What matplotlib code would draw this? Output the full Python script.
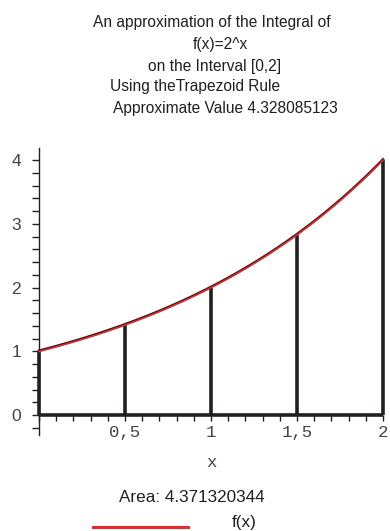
import numpy as np
import matplotlib
matplotlib.use('Agg')
import matplotlib.pyplot as plt
from matplotlib.ticker import MultipleLocator, FixedLocator

# trapezoid nodes for f(x)=2^x on [0,2], n=4
x_nodes = [0, 0.5, 1, 1.5, 2]
y_nodes = [1, 1.414, 2, 2.828, 4]

x_ticks = [0.5, 1, 1.5, 2]
x_tick_labels = ['0,5', '1', '1,5', '2']
y_ticks = [0, 1, 2, 3, 4]

title_lines = ['An approximation of the Integral of',
               'f(x)=2^x',
               'on the Interval [0,2]',
               'Using theTrapezoid Rule',
               'Approximate Value 4.328085123']
area_text = 'Area: 4.371320344'
legend_label = 'f(x)'

W, H = 390, 531
fig = plt.figure(figsize=(W / 100, H / 100), dpi=100)
ax = fig.add_axes([39 / W, 1 - 435 / H, (383 - 39) / W, (435 - 148) / H])

black = '#231f20'
red = '#e8282a'

# trapezoid sides and base
ax.vlines(x_nodes, 0, y_nodes, color=black, lw=2.6, clip_on=False, zorder=3)
ax.plot([x_nodes[0], x_nodes[-1]], [0, 0], color=black, lw=2.6, clip_on=False, zorder=3,
        solid_capstyle='butt')
# the function, with the black top underneath
xs = np.linspace(0, 2, 200)
ax.plot(xs, 2 ** xs + 0.012, color=black, lw=1.8, clip_on=False, zorder=4)
ax.plot(xs, 2 ** xs, color=red, lw=1.2, clip_on=False, zorder=5)

ax.set_xlim(0, 2)
ax.set_ylim(-0.31, 4.19)

for s in ['top', 'right']:
    ax.spines[s].set_visible(False)
ax.spines['bottom'].set_position(('data', 0))
ax.spines['bottom'].set_visible(False)
ax.spines['left'].set_color(black)
ax.spines['left'].set_linewidth(1.0)

ax.xaxis.set_major_locator(FixedLocator(x_ticks))
ax.set_xticklabels(x_tick_labels, family='Liberation Mono', fontsize=12.5, color='#444444')
ax.xaxis.set_minor_locator(MultipleLocator(0.1))
ax.tick_params(axis='x', which='both', direction='out', length=4, width=1, color=black, pad=3)

ax.yaxis.set_major_locator(FixedLocator(y_ticks))
ax.set_yticklabels([str(v) for v in y_ticks], family='Liberation Sans', fontsize=12.5, color='#444444')
ax.yaxis.set_minor_locator(MultipleLocator(0.2))
ax.tick_params(axis='y', which='both', direction='out', length=5, width=1, color=black, pad=8)

ax.set_xlabel('x', family='Liberation Mono', fontsize=12.5, color='#444444', labelpad=11)

# title lines
title_centers = [(212, 22), (220, 45), (215, 66), (195, 87), (225, 108)]
for line, (cx, cy) in zip(title_lines, title_centers):
    fig.text(cx / W, 1 - cy / H, line, ha='center', va='center',
             family='Liberation Sans', fontsize=11.2, color=black)

fig.text(192 / W, 1 - 497 / H, area_text, ha='center', va='center',
         family='Liberation Sans', fontsize=12.3, color=black)

# legend
fig.add_artist(plt.Line2D([93 / W, 188 / W], [1 - 527 / H, 1 - 527 / H], color=red, lw=2.2))
fig.text(232 / W, 1 - 522 / H, legend_label, ha='left', va='center',
         family='Liberation Sans', fontsize=12.3, color=black)

fig.savefig('out.png', dpi=100)
